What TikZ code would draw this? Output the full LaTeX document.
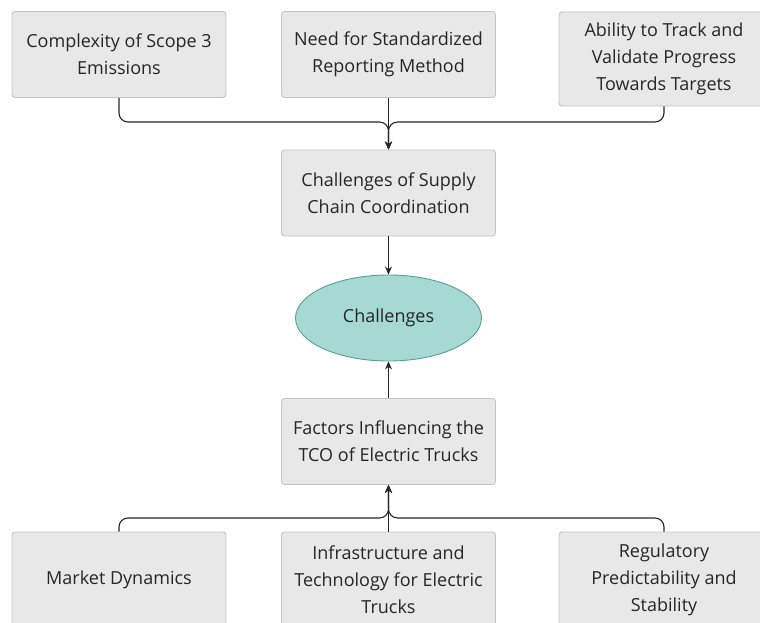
\documentclass[tikz,border=0pt]{standalone}
\usepackage{fontspec}
\setmainfont{Open Sans}
\usetikzlibrary{arrows.meta,shapes.geometric}
\definecolor{boxfill}{HTML}{E8E8E8}
\definecolor{boxline}{HTML}{C4C4C4}
\definecolor{tealfill}{HTML}{A6D9D3}
\definecolor{tealline}{HTML}{5E9C96}
\definecolor{ink}{HTML}{262626}

\begin{document}
\begin{tikzpicture}[x=1pt,y=-1pt,
 box/.style={draw=boxline,fill=boxfill,rounded corners=3pt,line width=0.9pt,
  minimum width=214pt,minimum height=86pt,align=center,text=ink,
  font=\fontsize{18}{27}\selectfont},
 link/.style={draw=ink,line width=1.1pt,rounded corners=9pt},
 tip/.style={-{Stealth[length=8pt,width=7pt]}}]
 \useasboundingbox (0,0) rectangle (760,623);
 \clip (0,0) rectangle (760,623);
 % top row
 \node[box] (scope) at (119,54.5) {Complexity of Scope 3\\Emissions};
 \node[box] (report) at (388.5,54.5) {Need for Standardized\\Reporting Method};
 \node[box,minimum width=210pt,minimum height=94pt] (track) at (664,59) {Ability to Track and\\Validate Progress\\Towards Targets};
 % middle
 \node[box] (supply) at (388.5,193) {Challenges of Supply\\Chain Coordination};
 \node[ellipse,draw=tealline,fill=tealfill,line width=0.9pt,minimum width=186pt,minimum height=86pt,
  text=ink,font=\fontsize{18}{27}\selectfont] (chall) at (388.5,318) {Challenges};
 \node[box] (tco) at (388.5,441.5) {Factors Influencing the\\TCO of Electric Trucks};
 % bottom row
 \node[box,minimum height=96pt] (market) at (119,580) {Market Dynamics};
 \node[box,minimum height=96pt] (infra) at (388.5,580) {Infrastructure and\\Technology for Electric\\Trucks};
 \node[box,minimum width=210pt,minimum height=96pt] (regul) at (664,580) {Regulatory\\Predictability and\\Stability};
 \coordinate (jtop) at (388.5,122);
 \coordinate (jbot) at (388.5,518);
 % connectors
 \draw[link,tip] (scope.south) -- (scope.south |- jtop) -- (jtop) -- (supply.north);
 \draw[link,tip] (track.south) -- (track.south |- jtop) -- (jtop) -- (supply.north);
 \draw[link,tip] (report.south) -- (supply.north);
 \draw[link,tip] (supply.south) -- (chall.north);
 \draw[link,tip] (tco.north) -- (chall.south);
 \draw[link,tip] (market.north) -- (market.north |- jbot) -- (jbot) -- (tco.south);
 \draw[link,tip] (regul.north) -- (regul.north |- jbot) -- (jbot) -- (tco.south);
 \draw[link,tip] (infra.north) -- (tco.south);
\end{tikzpicture}
\end{document}
